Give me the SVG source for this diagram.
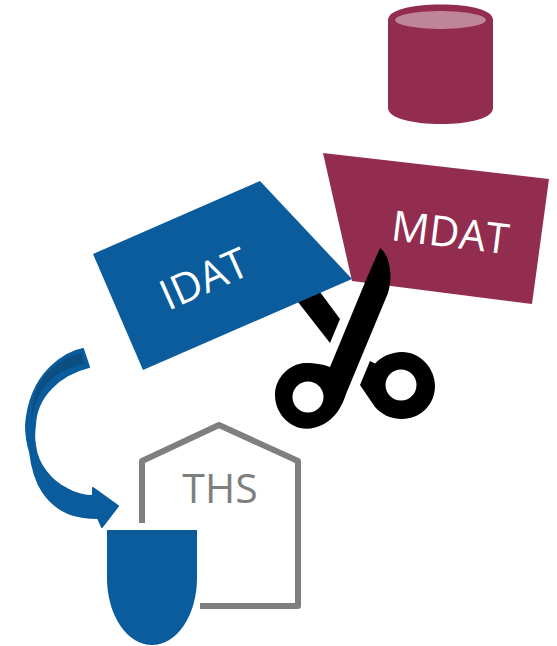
<svg xmlns="http://www.w3.org/2000/svg" width="557" height="646" viewBox="0 0 557 646">
<style>
.lbl{font-family:"Open Sans","Liberation Sans",sans-serif}
.w{fill:#fff}
.red{fill:#922d50}
.blue{fill:#0a5c9c}
</style>
<g id="cylinder">
<path class="red" d="M388 20C388 10 412 4.500 441 4.500C470 4.500 493 10 493 20V108C493 118 470 124 441 124C412 124 388 118 388 108Z"/>
<ellipse cx="440.500" cy="20" rx="45.500" ry="9" fill="#bf8598"/>
</g>
<g id="mdat">
<path class="red" d="M323 153L549 179L532 304L352 281Z"/>
<text class="lbl w" font-size="42" transform="translate(390 240) rotate(7)">MDAT</text>
</g>
<g id="scissors">
<path d="M298 302L320 292L340 319L330 343Z" fill="#000"/>
<path d="M380 248C386 252 390 262 390.500 276C390.500 282 389.500 288 388 293L346 394C342 407 335 418 324 424C316 428 308 430 300 428C285 424 275 410 275 395C275 378 289 364 305 363C316 363 325 365 330 367L366 280Z" fill="#000"/>
<circle cx="308" cy="397" r="15.500" fill="#fff"/>
<path d="M370 361L375 363.500C381 357 391 352 402 352C420 352 435 368 435 386C435 405 420 419 402 419C390 419 381 414 375 407L360 385Z" fill="#000"/>
<circle cx="401" cy="385" r="15.500" fill="#fff"/>
</g>
<g id="idat">
<path class="blue" d="M93 254L260 181L352 279L143 370Z"/>
<text class="lbl w" font-size="42" transform="translate(168 311) rotate(-24)">IDAT</text>
</g>
<g id="ths">
<path d="M142 523V461L219 425L298 461V606H200" fill="none" stroke="#7f7f7f" stroke-width="6" stroke-linejoin="round"/>
<text class="lbl" x="220" y="503" font-size="41" fill="#7f7f7f" text-anchor="middle">THS</text>
<path class="blue" d="M107 530H197V578A45 67 0 0 1 107 578Z"/>
</g>
<g id="connectors">
<path class="blue" stroke="#0a5c9c" stroke-width="2" stroke-linejoin="round" d="M83 349L89 367C60 374 36 396 35 425C34 432 34 440 35 445C37 465 52 482 67 489C76 494 85 496 93 496L93 488L118 506L102 527L98 518C78 518 58 514 43 492C36 482 32 468 30 452C27 442 26 434 26 425C28 400 36 382 50 368C60 358 72 351 83 349Z"/>
<path fill="#0b4f82" d="M82 353L84 364C68 367 55 374 46 385C37 396 33 410 31 422C31 405 35 390 43 378C52 366 66 356 82 353Z"/>
</g>
</svg>
